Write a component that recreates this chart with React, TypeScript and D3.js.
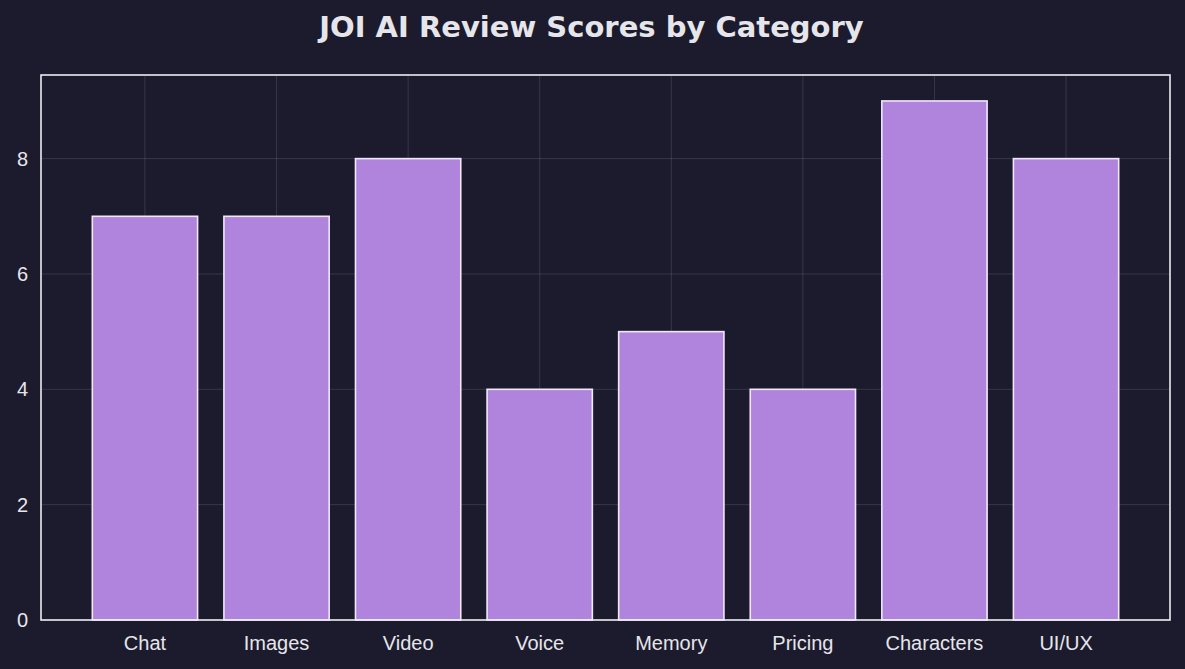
import React from "react";
import * as d3 from "d3";

const categories = ["Chat", "Images", "Video", "Voice", "Memory", "Pricing", "Characters", "UI/UX"];
const scores = [7, 7, 8, 4, 5, 4, 9, 8];
const yTicks = [0, 2, 4, 6, 8];
const title = "JOI AI Review Scores by Category";

const W = 1185;
const H = 669;
const left = 41;
const right = 1170;
const top = 75;
const bottom = 620;

export default function App() {
  const n = categories.length;
  const x = d3.scaleLinear().domain([-0.79, n - 1 + 0.79]).range([left, right]);
  const y = d3.scaleLinear().domain([0, 9.45]).range([bottom, top]);
  const bw = x(0.4) - x(-0.4);
  const bg = "#1c1b2e";
  const textColor = "#e6e6ea";
  return (
    <svg width={W} height={H} style={{ position: "absolute", left: 0, top: 0, background: bg }}>
      <rect x={0} y={0} width={W} height={H} fill={bg} />
      <text x={(left + right) / 2 - 14} y={37} textAnchor="middle" fill={textColor}
        style={{ fontFamily: "DejaVu Sans", fontWeight: "bold", fontSize: 29 }}>{title}</text>
      {yTicks.map((t) => (
        <line key={"gy" + t} x1={left} x2={right} y1={y(t)} y2={y(t)} stroke="#ffffff" strokeOpacity={0.12} strokeWidth={1} />
      ))}
      {categories.map((c, i) => (
        <line key={"gx" + c} x1={x(i)} x2={x(i)} y1={top} y2={bottom} stroke="#ffffff" strokeOpacity={0.12} strokeWidth={1} />
      ))}
      {scores.map((v, i) => (
        <rect key={"b" + i} x={x(i) - bw / 2} y={y(v)} width={bw} height={y(0) - y(v)}
          fill="#b084dc" stroke="#f0e8f8" strokeWidth={1.6} />
      ))}
      <rect x={left} y={top} width={right - left} height={bottom - top} fill="none" stroke="#ececf2" strokeWidth={1.6} />
      {yTicks.map((t) => (
        <text key={"yl" + t} x={left - 13} y={y(t) + 7} textAnchor="end" fill={textColor}
          style={{ fontFamily: "Liberation Sans, Arial", fontSize: 20 }}>{t}</text>
      ))}
      {categories.map((c, i) => (
        <text key={"xl" + c} x={x(i)} y={bottom + 30} textAnchor="middle" fill={textColor}
          style={{ fontFamily: "Liberation Sans, Arial", fontSize: 20 }}>{c}</text>
      ))}
    </svg>
  );
}
